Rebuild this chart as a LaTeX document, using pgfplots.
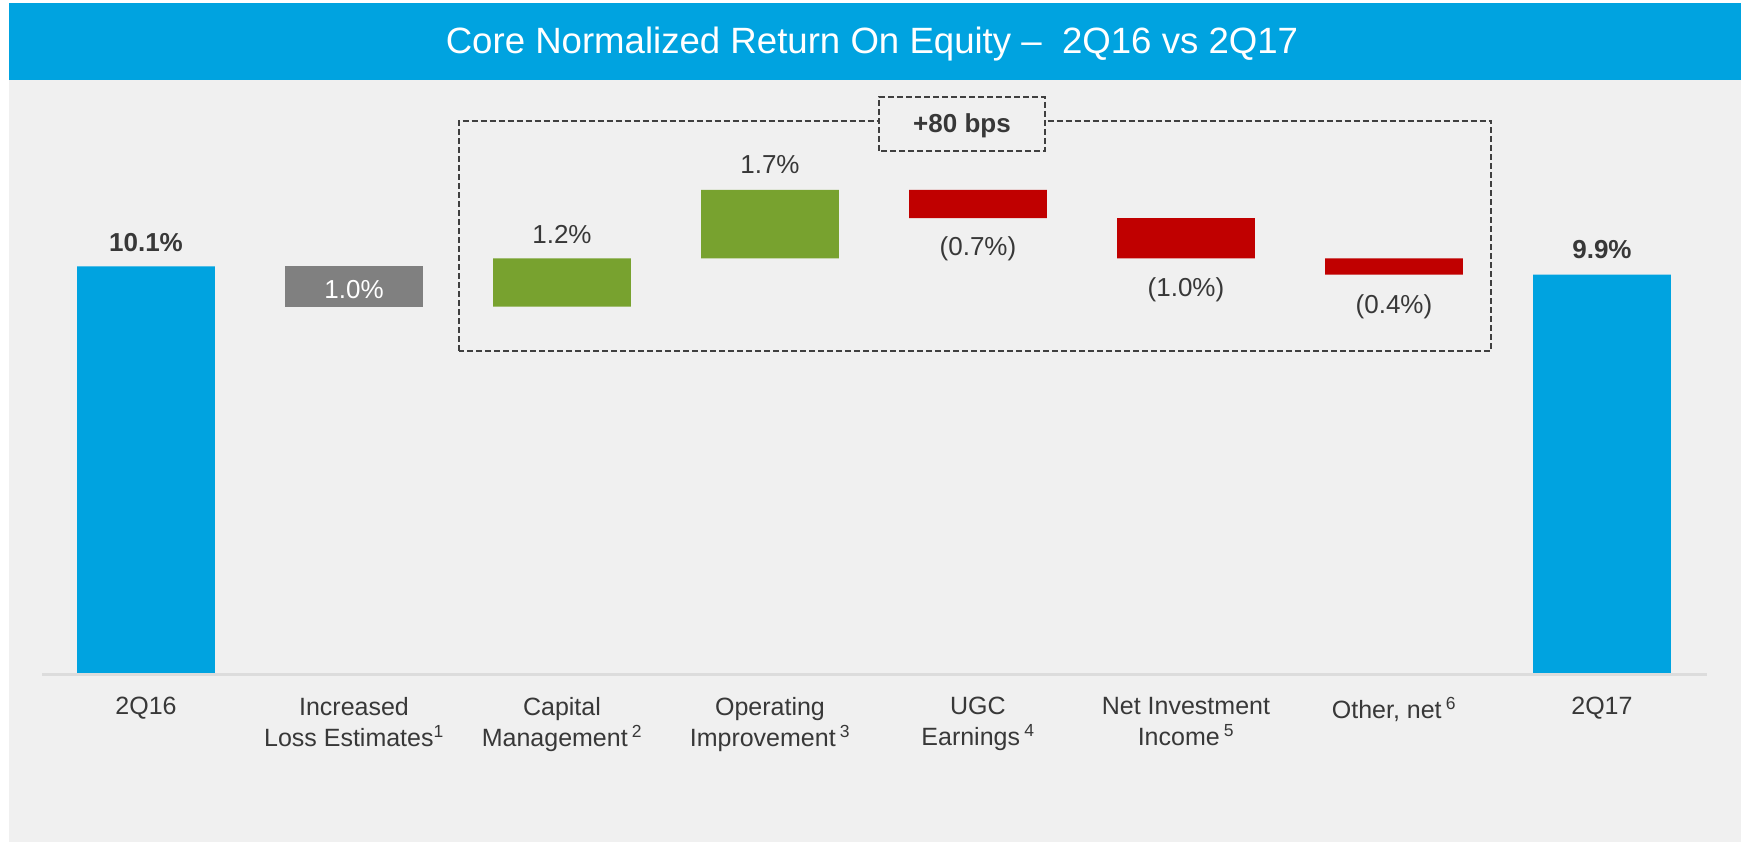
\documentclass[border=0pt]{standalone}
\usepackage{fontspec}
\setmainfont{Liberation Sans}
\usepackage{pgfplots}
\pgfplotsset{compat=1.18}
\definecolor{barblue}{HTML}{00A3E0}
\definecolor{bargreen}{HTML}{78A22F}
\definecolor{barred}{HTML}{C00000}
\definecolor{bargrey}{HTML}{808080}
\definecolor{bggray}{HTML}{F0F0F0}
\definecolor{axisgray}{HTML}{DCDCDC}
\definecolor{txt}{HTML}{383838}
\definecolor{dashgray}{HTML}{404040}
\tikzset{vlab/.style={anchor=base, inner sep=0pt, text=txt, font=\fontsize{26}{30}\selectfont}}
\begin{document}
\begin{tikzpicture}[x=1pt,y=1pt]
\fill[white] (0,0) rectangle (1741,842);
\fill[bggray] (9,0) rectangle (1741,762);
\fill[barblue] (9,762) rectangle (1741,839);
\node[anchor=base, text=white, inner sep=0, font=\fontsize{36.6}{40}\selectfont] at (872,788) {Core Normalized Return On Equity –\ \ 2Q16 vs 2Q17};
\draw[line width=3pt, axisgray] (42,167.5) -- (1707,167.5);
\begin{axis}[
  at={(42pt,169pt)}, anchor=south west,
  scale only axis, width=1664pt, height=523.25pt,
  xmin=-0.5, xmax=7.5, ymin=0, ymax=13,
  ybar stacked, bar width=137.7pt,
  axis line style={draw=none},
  ytick=\empty, xtick={0,1,2,3,4,5,6,7},
  major tick length=0pt,
  xticklabels={2Q16,{Increased\\Loss Estimates\textsuperscript{1}},{Capital\\Management\,\textsuperscript{2}},{Operating\\Improvement\,\textsuperscript{3}},{UGC\\Earnings\,\textsuperscript{4}},{Net Investment\\Income\,\textsuperscript{5}},{Other, net\,\textsuperscript{6}},2Q17},
  xticklabel style={align=center, font=\fontsize{25}{31}\selectfont, text=txt, anchor=north, inner sep=0pt, yshift=-24pt},
  clip=false,
]
\addplot[draw=none, fill=none] coordinates {(0,0) (1,9.1) (2,9.1) (3,10.3) (4,11.3) (5,10.3) (6,9.9) (7,0)};
\addplot[draw=none, fill=barblue] coordinates {(0,10.1) (1,0) (2,0) (3,0) (4,0) (5,0) (6,0) (7,9.9)};
\addplot[draw=none, fill=bargrey] coordinates {(0,0) (1,1.0) (2,0) (3,0) (4,0) (5,0) (6,0) (7,0)};
\addplot[draw=none, fill=bargreen] coordinates {(0,0) (1,0) (2,1.2) (3,1.7) (4,0) (5,0) (6,0) (7,0)};
\addplot[draw=none, fill=barred] coordinates {(0,0) (1,0) (2,0) (3,0) (4,0.7) (5,1.0) (6,0.4) (7,0)};
\coordinate (p0) at (axis cs:0,10.1);
\coordinate (p1) at (axis cs:1,9.1);
\coordinate (p2) at (axis cs:2,10.3);
\coordinate (p3) at (axis cs:3,12.0);
\coordinate (p4) at (axis cs:4,11.3);
\coordinate (p5) at (axis cs:5,10.3);
\coordinate (p6) at (axis cs:6,9.9);
\coordinate (p7) at (axis cs:7,9.9);
\end{axis}
\node[vlab, yshift=15pt, font=\fontsize{26}{30}\selectfont\bfseries] at (p0) {10.1\%};
\node[vlab, yshift=8pt, text=white] at (p1) {1.0\%};
\node[vlab, yshift=15pt] at (p2) {1.2\%};
\node[vlab, yshift=16pt] at (p3) {1.7\%};
\node[vlab, yshift=-37pt] at (p4) {(0.7\%)};
\node[vlab, yshift=-38pt] at (p5) {(1.0\%)};
\node[vlab, yshift=-39pt] at (p6) {(0.4\%)};
\node[vlab, yshift=16pt, font=\fontsize{26}{30}\selectfont\bfseries] at (p7) {9.9\%};
\draw[dashgray, line width=2pt, dash pattern=on 6pt off 3pt] (458.5,491) rectangle (1491,721);
\filldraw[fill=bggray, draw=dashgray, line width=2pt, dash pattern=on 6pt off 3pt] (879,691) rectangle (1045,745);
\node[anchor=base, inner sep=0pt, text=txt, font=\fontsize{26}{30}\selectfont\bfseries] at (962,709) {+80 bps};
\end{tikzpicture}
\end{document}
